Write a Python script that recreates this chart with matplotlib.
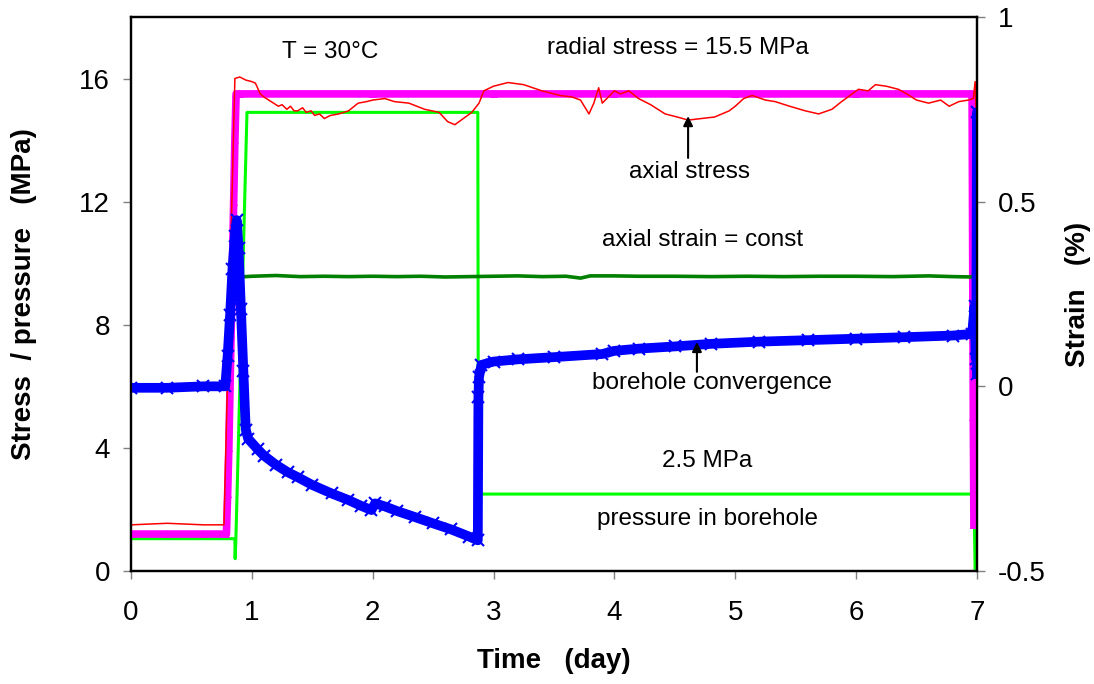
import matplotlib
matplotlib.use("Agg")
import matplotlib.pyplot as plt

plt.rcParams['font.family'] = ['Liberation Sans', 'DejaVu Sans']

# axial stress (MPa), left axis
t_axial = [0, 0.3, 0.6, 0.77, 0.86, 0.9, 0.95, 1.0, 1.03, 1.07, 1.1, 1.14, 1.18, 1.22, 1.25,
           1.29, 1.32, 1.35, 1.38, 1.42, 1.45, 1.49, 1.52, 1.56, 1.6, 1.65, 1.72, 1.8, 1.88,
           1.95, 2.0, 2.1, 2.18, 2.3, 2.43, 2.55, 2.62, 2.68, 2.75, 2.82, 2.88, 2.92, 3.0,
           3.12, 3.25, 3.4, 3.55, 3.65, 3.72, 3.79, 3.83, 3.87, 3.9, 3.95, 4.0, 4.05, 4.12,
           4.2, 4.3, 4.42, 4.52, 4.61, 4.72, 4.83, 4.95, 5.0, 5.07, 5.14, 5.25, 5.33, 5.45,
           5.58, 5.69, 5.8, 5.88, 5.95, 6.02, 6.1, 6.16, 6.25, 6.35, 6.42, 6.5, 6.6, 6.7,
           6.77, 6.85, 6.93, 6.97, 6.985, 7.0]
axial_stress = [1.5, 1.55, 1.5, 1.5, 16.0, 16.05, 15.95, 15.9, 15.85, 15.5, 15.4, 15.3, 15.2, 15.1, 15.15,
                15.0, 15.1, 14.95, 14.95, 15.05, 14.9, 14.95, 14.8, 14.85, 14.7, 14.8, 14.85, 14.95, 15.2,
                15.25, 15.3, 15.35, 15.25, 15.2, 15.0, 14.9, 14.6, 14.5, 14.7, 14.9, 15.2, 15.6, 15.75,
                15.87, 15.8, 15.6, 15.45, 15.4, 15.3, 14.85, 15.2, 15.7, 15.2, 15.4, 15.6, 15.5, 15.6,
                15.35, 15.15, 14.85, 14.75, 14.65, 14.7, 14.75, 14.95, 15.1, 15.35, 15.45, 15.3, 15.25, 15.1,
                14.95, 14.85, 15.0, 15.25, 15.45, 15.65, 15.6, 15.8, 15.75, 15.65, 15.5, 15.3, 15.2, 15.3,
                15.1, 15.25, 15.3, 15.35, 15.9, 14.0]

# radial stress (MPa), left axis
t_radial = [0, 0.3, 0.6, 0.79, 0.8, 0.81, 0.82, 0.83, 0.84, 0.85, 0.86, 0.87, 0.9, 2.0, 3.0,
            4.0, 5.0, 6.0, 6.96, 6.965, 6.97, 6.975]
radial_stress = [1.2, 1.2, 1.2, 1.2, 2.5, 4.0, 6.0, 8.0, 10.0, 12.0, 14.0, 15.5, 15.5, 15.5, 15.5,
                 15.5, 15.5, 15.5, 15.5, 10.0, 5.0, 1.5]

# pressure in borehole (MPa), left axis
t_press = [0, 0.86, 0.862, 0.868, 0.96, 2.87, 2.875, 2.885, 6.975, 6.985]
pressure = [1.05, 1.05, 0.4, 1.0, 14.9, 14.9, 2.0, 2.5, 2.5, 0.0]

# axial strain (%), right axis
t_strain = [0.9, 1.0, 1.2, 1.4, 1.6, 1.8, 2.0, 2.2, 2.4, 2.6, 2.8, 3.0, 3.2, 3.4, 3.6, 3.72,
            3.8, 4.0, 4.2, 4.5, 4.8, 5.1, 5.4, 5.7, 6.0, 6.3, 6.6, 6.8, 6.97, 6.99, 7.0]
axial_strain = [0.296, 0.298, 0.300, 0.297, 0.298, 0.297, 0.298, 0.297, 0.298, 0.296, 0.297, 0.298,
                0.299, 0.297, 0.298, 0.293, 0.299, 0.299, 0.298, 0.298, 0.297, 0.298, 0.297, 0.298,
                0.298, 0.297, 0.299, 0.297, 0.296, 0.369, 0.300]

# borehole convergence (%), right axis
t_conv = [0, 0.3, 0.6, 0.78, 0.8, 0.82, 0.84, 0.86, 0.875, 0.89, 0.91, 0.93, 0.95, 0.97, 1.05,
          1.1, 1.2, 1.3, 1.38, 1.5, 1.66, 1.8, 1.9, 1.99, 2.02, 2.1, 2.2, 2.35, 2.5, 2.65, 2.8,
          2.87, 2.875, 2.88, 2.9, 3.0, 3.2, 3.5, 3.9, 4.0, 4.2, 4.5, 4.8, 5.2, 5.6, 6.0, 6.4,
          6.8, 6.96, 6.98, 6.99, 6.995, 7.0, 7.0]
convergence = [-0.004, -0.004, 0.0, 0.0, 0.083, 0.192, 0.317, 0.408, 0.45, 0.375, 0.208, 0.042,
               -0.117, -0.142, -0.171, -0.1875, -0.2125, -0.233, -0.246, -0.267, -0.29, -0.308,
               -0.323, -0.335, -0.317, -0.325, -0.3375, -0.354, -0.371, -0.3875, -0.407, -0.417,
               -0.028, 0.025, 0.058, 0.067, 0.073, 0.079, 0.0875, 0.096, 0.102, 0.108, 0.115,
               0.121, 0.125, 0.129, 0.133, 0.1375, 0.142, 0.217, 0.075, 0.167, 0.742, 0.033]

x_ticks = [0, 1, 2, 3, 4, 5, 6, 7]
left_ticks = [0, 4, 8, 12, 16]
right_ticks = [-0.5, 0, 0.5, 1]
right_labels = ["-0.5", "0", "0.5", "1"]

fig = plt.figure(figsize=(10.94, 6.84), dpi=100)
ax = fig.add_axes([0.1197, 0.1652, 0.7733, 0.81])
ax2 = ax.twinx()

ax.plot(t_press, pressure, color='#00FF00', lw=2.2, zorder=2)
ax.plot(t_radial, radial_stress, color='#FF00FF', lw=5.5, marker='^', ms=6, mew=0, zorder=3)
ax.plot(t_axial, axial_stress, color='red', lw=1.1, zorder=4)

ax2.plot(t_strain, axial_strain, color='#008000', lw=2.6)
ax2.plot(t_conv, convergence, color='#0000FF', lw=7, marker='x', ms=8, mew=1.5)

ax.set_xlim(0, 7)
ax.set_ylim(0, 18)
ax2.set_ylim(-0.5, 1)
ax.set_xticks(x_ticks)
ax.set_yticks(left_ticks)
ax2.set_yticks(right_ticks)
ax2.set_yticklabels(right_labels)

for a in (ax, ax2):
    a.tick_params(direction='out', length=6, width=1, color='#808080', labelsize=20, pad=9)
    for s in a.spines.values():
        s.set_linewidth(1.6)
        s.set_color('black')
ax.tick_params(axis='x', pad=15)

ax.set_xlabel("Time   (day)", fontsize=20, fontweight='bold')
ax.xaxis.set_label_coords(0.5, -0.139)
ax.set_ylabel("Stress  / pressure   (MPa)", fontsize=20, fontweight='bold')
ax.yaxis.set_label_coords(-0.111, 0.5)
ax2.set_ylabel("Strain   (%)", fontsize=20, fontweight='bold')
ax2.yaxis.set_label_coords(1.104, 0.5)

fs = 17.5
ax.text(1.647, 16.86, "T = 30°C", fontsize=fs, ha='center', va='center')
ax.text(4.526, 16.99, "radial stress = 15.5 MPa", fontsize=fs, ha='center', va='center')
ax.text(4.625, 12.96, "axial stress", fontsize=fs, ha='center', va='center')
ax.text(4.733, 10.75, "axial strain = const", fontsize=fs, ha='center', va='center')
ax.text(4.807, 6.11, "borehole convergence", fontsize=fs, ha='center', va='center')
ax.text(4.766, 3.57, "2.5 MPa", fontsize=fs, ha='center', va='center')
ax.text(4.774, 1.69, "pressure in borehole", fontsize=fs, ha='center', va='center')

arrow = dict(arrowstyle='-|>', color='black', lw=1.5, mutation_scale=14, shrinkA=0, shrinkB=0)
ax2.annotate("", xy=(4.61, 14.78), xytext=(4.61, 13.42), xycoords=ax.transData,
             textcoords=ax.transData, arrowprops=arrow)
ax2.annotate("", xy=(4.683, 7.44), xytext=(4.683, 6.47), xycoords=ax.transData,
             textcoords=ax.transData, arrowprops=arrow)

fig.savefig("out.png", dpi=100)
